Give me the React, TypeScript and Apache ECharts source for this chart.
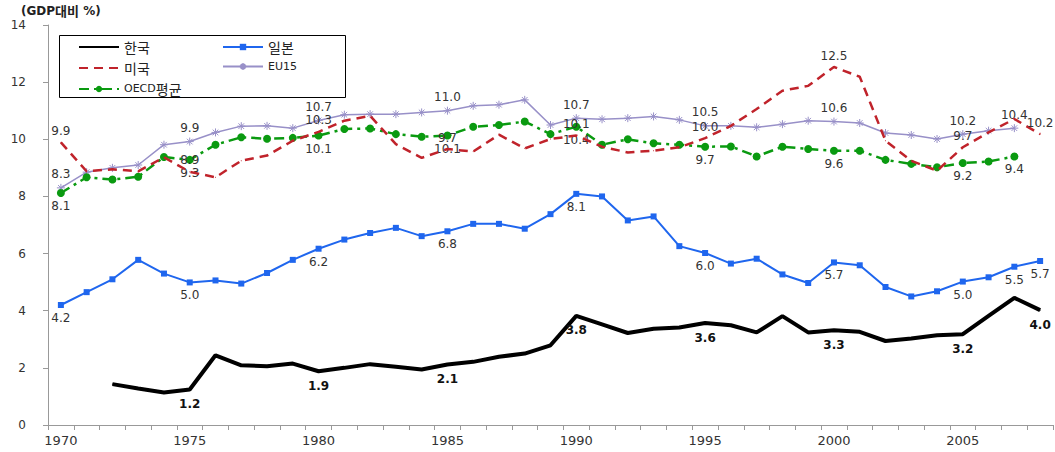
import React, { useEffect, useRef } from "react";
import * as echarts from "echarts";

const years = Array.from({ length: 39 }, (_, i) => String(1970 + i));

// 1970..2008
const korea = [null, null, 1.43, 1.28, 1.14, 1.24, 2.44, 2.09, 2.06, 2.15, 1.88, 2.0, 2.13, 2.04, 1.94, 2.12, 2.21, 2.39, 2.5, 2.79, 3.82, 3.52, 3.22, 3.37, 3.41, 3.57, 3.49, 3.24, 3.81, 3.24, 3.32, 3.26, 2.94, 3.03, 3.14, 3.18, 3.82, 4.45, 4.02];
const japan = [4.2, 4.65, 5.1, 5.78, 5.3, 4.99, 5.06, 4.95, 5.32, 5.78, 6.17, 6.49, 6.72, 6.9, 6.61, 6.78, 7.04, 7.04, 6.87, 7.38, 8.09, 8.0, 7.16, 7.3, 6.26, 6.02, 5.65, 5.82, 5.27, 4.97, 5.69, 5.59, 4.83, 4.5, 4.68, 5.02, 5.17, 5.54, 5.74];
const usa = [9.89, 8.88, 8.95, 8.88, 9.37, 8.86, 8.67, 9.25, 9.43, 9.95, 10.26, 10.65, 10.82, 9.83, 9.35, 9.66, 9.57, 10.16, 9.68, 10.01, 10.13, 9.74, 9.54, 9.6, 9.72, 10.04, 10.47, 11.06, 11.7, 11.87, 12.53, 12.19, 9.95, 9.25, 8.9, 9.72, 10.24, 10.71, 10.18];
const eu15 = [8.3, 8.85, 9.0, 9.1, 9.81, 9.92, 10.24, 10.46, 10.47, 10.39, 10.66, 10.86, 10.88, 10.88, 10.94, 11.0, 11.17, 11.21, 11.38, 10.5, 10.74, 10.7, 10.74, 10.8, 10.68, 10.47, 10.47, 10.42, 10.53, 10.65, 10.62, 10.57, 10.22, 10.15, 10.01, 10.18, 10.3, 10.39, null];
const oecd = [8.12, 8.67, 8.59, 8.69, 9.38, 9.28, 9.81, 10.07, 10.02, 10.05, 10.13, 10.36, 10.38, 10.18, 10.09, 10.13, 10.44, 10.5, 10.62, 10.18, 10.44, 9.81, 10.0, 9.86, 9.81, 9.74, 9.75, 9.4, 9.74, 9.66, 9.6, 9.6, 9.28, 9.14, 9.02, 9.17, 9.22, 9.4, null];

// indices of labelled points
const koreaLabels = [5, 10, 15, 20, 25, 30, 35, 38];
const japanLabels = [0, 5, 10, 15, 20, 25, 30, 35, 37, 38];
const usaLabels = [0, 5, 10, 15, 20, 25, 30, 35, 38];
const euLabels = [0, 5, 10, 15, 20, 25, 30, 35, 37];
const oecdLabels = [0, 5, 10, 15, 20, 25, 30, 35, 37];

const yTicks = { min: 0, max: 14, interval: 2 };

const FONT = '"DejaVu Sans", "Noto Sans CJK KR", sans-serif';
const KFONT = '"Noto Sans CJK KR", sans-serif';

function withLabels(values: (number | null)[], idx: number[]) {
  return values.map((v, i) =>
    v !== null && idx.includes(i) ? { value: v, label: { show: true } } : v === null ? "-" : v
  );
}

const fmt = (p: any) => Number(p.value).toFixed(1);
const hangul = (s: string) => s.replace(/([가-힣]+)/g, "{k|$1}");

export default function App() {
  const ref = useRef<HTMLDivElement>(null);
  useEffect(() => {
    const chart = echarts.init(ref.current!, null, { renderer: "svg" });
    const labelBase = { show: false, formatter: fmt, fontSize: 12, color: "#333", fontFamily: FONT };
    const legendText = {
      fontSize: 11,
      color: "#222",
      fontFamily: FONT,
      rich: { k: { fontSize: 14, fontFamily: KFONT, color: "#222" } },
    };
    const legendCommon = {
      orient: "vertical",
      top: 35,
      itemWidth: 40,
      itemHeight: 8,
      itemGap: 7,
      z: 5,
      formatter: hangul,
      textStyle: legendText,
    };
    chart.setOption({
      animation: false,
      backgroundColor: "#fff",
      grid: { left: 48, right: 2, top: 25, bottom: 27, containLabel: false },
      graphic: [
        {
          type: "text",
          left: 21,
          top: 4,
          z: 5,
          style: {
            text: "(GDP{k|대비} %)",
            fontSize: 12,
            fontWeight: "bold",
            fill: "#222",
            fontFamily: FONT,
            rich: { k: { fontSize: 13, fontWeight: "bold", fontFamily: KFONT, fill: "#222" } },
          },
        },
        {
          type: "rect",
          z: 3,
          shape: { x: 59.5, y: 35.5, width: 286, height: 62 },
          style: { fill: "#fff", stroke: "#000", lineWidth: 1 },
        },
      ],
      legend: [
        {
          ...legendCommon,
          left: 73,
          data: [
            { name: "한국", itemStyle: { opacity: 0 } },
            { name: "미국", itemStyle: { opacity: 0 } },
            { name: "OECD평균" },
          ],
        },
        {
          ...legendCommon,
          left: 217,
          data: [{ name: "일본" }, { name: "EU15" }],
        },
      ],
      xAxis: {
        type: "category",
        data: years,
        boundaryGap: true,
        axisLine: { lineStyle: { color: "#999", width: 1 } },
        axisTick: { show: true, interval: 0, length: 5, lineStyle: { color: "#999" } },
        axisLabel: { interval: 4, fontSize: 13, color: "#333", margin: 9, fontFamily: FONT },
        splitLine: { show: false },
      },
      yAxis: {
        type: "value",
        min: yTicks.min,
        max: yTicks.max,
        interval: yTicks.interval,
        axisLine: { show: true, lineStyle: { color: "#999", width: 1 } },
        axisTick: { show: true, length: 5, lineStyle: { color: "#999" } },
        axisLabel: { fontSize: 12, color: "#333", margin: 22, fontFamily: FONT },
        splitLine: { show: false },
      },
      series: [
        {
          name: "한국",
          type: "line",
          data: withLabels(korea, koreaLabels),
          symbol: "circle",
          symbolSize: 1,
          showSymbol: true,
          itemStyle: { color: "#000" },
          lineStyle: { color: "#000", width: 4 },
          label: { ...labelBase, position: "bottom", distance: 8, fontWeight: "bold", color: "#111" },
          z: 6,
        },
        {
          name: "일본",
          type: "line",
          data: withLabels(japan, japanLabels),
          symbol: "rect",
          symbolSize: 6,
          itemStyle: { color: "#1f66ee" },
          lineStyle: { color: "#1f66ee", width: 2 },
          label: { ...labelBase, position: "bottom", distance: 4 },
          z: 5,
        },
        {
          name: "미국",
          type: "line",
          data: withLabels(usa, usaLabels),
          symbol: "circle",
          symbolSize: 1,
          itemStyle: { color: "#c0232b" },
          lineStyle: { color: "#c0232b", width: 2.5, type: [9, 6] },
          label: { ...labelBase, position: "top", distance: 5 },
          z: 4,
        },
        {
          name: "EU15",
          type: "line",
          data: withLabels(eu15, euLabels),
          symbol: "path://M0,5L10,5M5,0L5,10M1.5,1.5L8.5,8.5M8.5,1.5L1.5,8.5",
          symbolSize: 8,
          itemStyle: { color: "#9890c8", borderColor: "#9890c8", borderWidth: 1 },
          lineStyle: { color: "#9890c8", width: 1.5 },
          label: { ...labelBase, position: "top", distance: 3 },
          z: 3,
        },
        {
          name: "OECD평균",
          type: "line",
          data: withLabels(oecd, oecdLabels),
          symbol: "circle",
          symbolSize: 8,
          itemStyle: { color: "#0a9a10" },
          lineStyle: { color: "#0a9a10", width: 2.5, type: [10, 5, 3, 5] },
          label: { ...labelBase, position: "bottom", distance: 3 },
          z: 3,
        },
      ],
    });
    return () => chart.dispose();
  }, []);
  return (
    <div
      ref={ref}
      style={{ position: "absolute", left: 0, top: 0, width: 1055, height: 452 }}
    />
  );
}
